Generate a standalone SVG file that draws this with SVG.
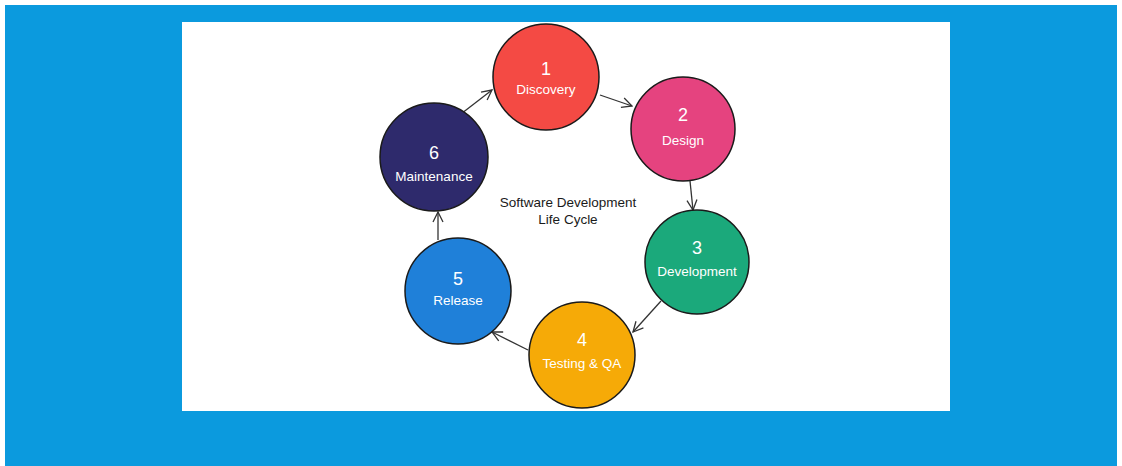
<svg xmlns="http://www.w3.org/2000/svg" width="1122" height="466" viewBox="0 0 1122 466">
<style>
.node circle{stroke:#1a1a1a;stroke-width:1.5}
.num{font-family:"Liberation Sans",Arial,sans-serif;font-size:18px;fill:#ffffff;text-anchor:middle}
.lbl{font-family:"Liberation Sans",Arial,sans-serif;font-size:13.5px;fill:#ffffff;text-anchor:middle}
.title{font-family:"Liberation Sans",Arial,sans-serif;font-size:13.5px;fill:#1a1a1a;text-anchor:middle}
.conn line{stroke:#333333;stroke-width:1.3;fill:none}
</style>
<defs>
<marker id="arr" viewBox="0 0 12 12" refX="11" refY="6" markerWidth="12" markerHeight="12" markerUnits="userSpaceOnUse" orient="auto">
<path d="M1,1 L11,6 L1,11" fill="none" stroke="#333333" stroke-width="1.3"/>
</marker>
</defs>
<rect x="0" y="0" width="1122" height="466" fill="#ffffff"/>
<rect x="5" y="5" width="1112" height="461" fill="#0b9ade"/>
<rect x="182" y="22" width="768" height="389" fill="#ffffff"/>
<g class="conn">
<line x1="600" y1="95" x2="632" y2="106" marker-end="url(#arr)"/>
<line x1="690" y1="181" x2="693" y2="210" marker-end="url(#arr)"/>
<line x1="661" y1="301" x2="633" y2="332" marker-end="url(#arr)"/>
<line x1="528" y1="350" x2="492" y2="332" marker-end="url(#arr)"/>
<line x1="438" y1="240" x2="438" y2="212" marker-end="url(#arr)"/>
<line x1="457" y1="117" x2="492" y2="90" marker-end="url(#arr)"/>
</g>
<g id="node1" class="node">
<circle cx="546" cy="77" r="53" fill="#f44a44"/>
<text class="num" x="546" y="75">1</text>
<text class="lbl" x="546" y="94">Discovery</text>
</g>
<g id="node2" class="node">
<circle cx="683" cy="129" r="52" fill="#e5437f"/>
<text class="num" x="683" y="121">2</text>
<text class="lbl" x="683" y="145">Design</text>
</g>
<g id="node3" class="node">
<circle cx="697" cy="262" r="52" fill="#1ba97b"/>
<text class="num" x="697" y="254">3</text>
<text class="lbl" x="697" y="276">Development</text>
</g>
<g id="node4" class="node">
<circle cx="582" cy="355" r="53" fill="#f6aa07"/>
<text class="num" x="582" y="346">4</text>
<text class="lbl" x="582" y="368">Testing &amp; QA</text>
</g>
<g id="node5" class="node">
<circle cx="458" cy="291" r="53" fill="#1f80d9"/>
<text class="num" x="458" y="285">5</text>
<text class="lbl" x="458" y="305">Release</text>
</g>
<g id="node6" class="node">
<circle cx="434" cy="157" r="54" fill="#2e2a6c"/>
<text class="num" x="434" y="159">6</text>
<text class="lbl" x="434" y="181">Maintenance</text>
</g>
<g id="title">
<text class="title" x="568" y="207">Software Development</text>
<text class="title" x="568" y="224">Life Cycle</text>
</g>
</svg>
